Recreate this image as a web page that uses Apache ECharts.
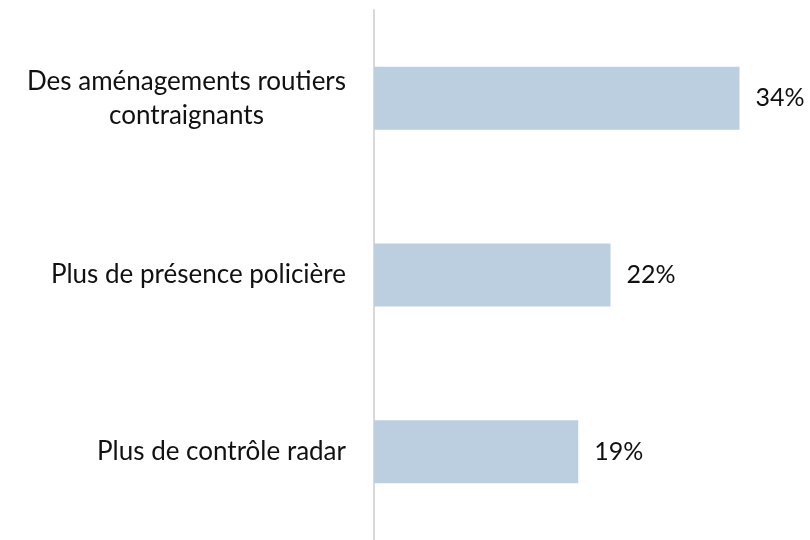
<!DOCTYPE html>
<html>
<head>
<meta charset="utf-8">
<script src="https://cdn.jsdelivr.net/npm/echarts@6/dist/echarts.min.js"></script>
<style>
  html, body { margin: 0; padding: 0; background: #fff; }
  #chart { width: 810px; height: 540px; }
</style>
</head>
<body>
<div id="chart"></div>
<script>
// categories top to bottom, with their share (%)
const categories = [
  "Des aménagements routiers\ncontraignants",
  "Plus de présence policière",
  "Plus de contrôle radar"
];
const values = [34, 22, 19];

const FONT = "Lato";
const chart = echarts.init(document.getElementById("chart"));

const option = {
  animation: false,
  grid: { left: 374, top: 10, width: 430, height: 532, containLabel: false },
  xAxis: {
    type: "value",
    min: 0,
    max: 40,
    show: false
  },
  yAxis: {
    type: "category",
    inverse: true,
    data: categories,
    axisLine: { show: true, lineStyle: { color: "#d9d9d9", width: 2 } },
    axisTick: { show: false },
    splitLine: { show: false },
    axisLabel: {
      margin: 28,
      align: "right",
      formatter: (v) => v.split("\n").map((s) => "{c|" + s + "}").join("\n"),
      rich: {
        c: { align: "center", fontFamily: FONT, fontSize: 26, color: "#111", lineHeight: 34 }
      }
    }
  },
  series: [{
    type: "bar",
    data: values,
    barWidth: 63,
    itemStyle: { color: "#bccfe1" },
    label: {
      show: true,
      position: "right",
      distance: 16,
      formatter: "{c}%",
      fontFamily: FONT,
      fontSize: 25,
      color: "#111"
    }
  }]
};

chart.setOption(option);
</script>
</body>
</html>
